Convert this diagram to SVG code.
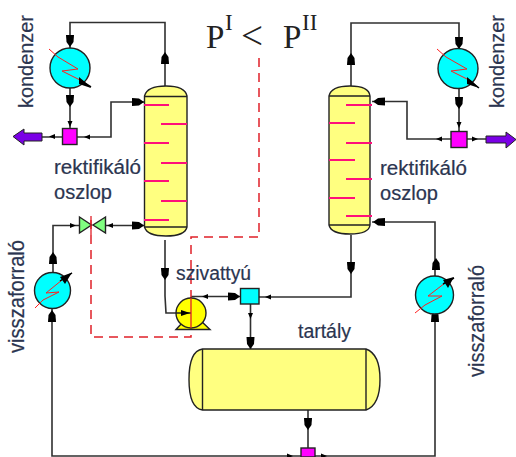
<svg xmlns="http://www.w3.org/2000/svg" xmlns:xlink="http://www.w3.org/1999/xlink" width="516" height="457" viewBox="0 0 516 457">
<style>
.c{fill:none;stroke:#303030;stroke-width:1.6}
.o{stroke:#222;stroke-width:1.4}
.y{fill:#ffff80}
.t{fill:none;stroke:#ff0f7a;stroke-width:2}
.r{fill:none;stroke:#ff2020;stroke-width:1}
.d{fill:none;stroke:#e02028;stroke-width:1.5;stroke-dasharray:9 6}
.h{fill:#00ffff}
.m{fill:#ff00ff}
.p{fill:#7a00e6;stroke:#222;stroke-width:1}
.l{font-family:"Liberation Sans",Arial,sans-serif;font-size:20px;fill:#2b3550;stroke:#2b3550;stroke-width:.2}
.v{font-size:22px}
.s{font-family:"Liberation Serif","Times New Roman",serif;fill:#222}
</style>
<defs>
<path id="A" d="M-4,-10 L4,-10 L3.500,-3 L0,2 L-3.500,-3 Z" fill="#000"/>
<path id="B" d="M-2.500,-3 L2.500,-3 L0,3 Z" fill="#000"/>
</defs>

<g id="connectors">
<path class="c" d="M70,48V22.500H165V86"/>
<path class="c" d="M70,88V128"/>
<path class="c" d="M62,137H42M77,137H111V102H144"/>
<path class="c" d="M144,225.500H106M79,225.500H53V272"/>
<path class="c" d="M52,309V456H301M315,456H435V314"/>
<path class="c" d="M165,240V296L166,313H191"/>
<path class="c" d="M191,296.500H240M250.500,304V349M259,297H351V235"/>
<path class="c" d="M351,86V23H459V48"/>
<path class="c" d="M459,88V131M451,139H407V101.500H372M467,139H486"/>
<path class="c" d="M435,276V222H372"/>
<path class="c" d="M308,410V448"/>
<use xlink:href="#A" transform="translate(70,45)"/>
<use xlink:href="#A" transform="translate(70,105)"/>
<use xlink:href="#B" transform="translate(70,124)"/>
<use xlink:href="#A" transform="translate(165,54) rotate(180)"/>
<use xlink:href="#B" transform="translate(52,136.500) rotate(90)"/>
<use xlink:href="#B" transform="translate(87,137) rotate(90)"/>
<use xlink:href="#A" transform="translate(142,102) rotate(-90)"/>
<use xlink:href="#A" transform="translate(142,225.500) rotate(-90)"/>
<use xlink:href="#B" transform="translate(110,225.500) rotate(90)"/>
<use xlink:href="#B" transform="translate(73,225.500) rotate(-90)"/>
<use xlink:href="#A" transform="translate(53,254) rotate(180)"/>
<use xlink:href="#A" transform="translate(52,312) rotate(180)"/>
<use xlink:href="#A" transform="translate(165,278)"/>
<use xlink:href="#B" transform="translate(205,296.500) rotate(90)"/>
<use xlink:href="#A" transform="translate(238,296.500) rotate(-90)"/>
<use xlink:href="#B" transform="translate(250.500,316)"/>
<use xlink:href="#A" transform="translate(250.500,347)"/>
<use xlink:href="#B" transform="translate(268,297) rotate(90)"/>
<use xlink:href="#A" transform="translate(351,272)"/>
<use xlink:href="#A" transform="translate(351,55) rotate(180)"/>
<use xlink:href="#A" transform="translate(459,47)"/>
<use xlink:href="#A" transform="translate(459,107)"/>
<use xlink:href="#B" transform="translate(459,125)"/>
<use xlink:href="#B" transform="translate(439,139) rotate(90)"/>
<use xlink:href="#B" transform="translate(475,139) rotate(-90)"/>
<use xlink:href="#A" transform="translate(375,101.500) rotate(90)"/>
<use xlink:href="#A" transform="translate(375,222) rotate(90)"/>
<use xlink:href="#A" transform="translate(436,260) rotate(180)"/>
<use xlink:href="#A" transform="translate(435,312) rotate(180)"/>
<use xlink:href="#A" transform="translate(308,428)"/>
<use xlink:href="#B" transform="translate(290,456) rotate(-90)"/>
<use xlink:href="#B" transform="translate(324,456) rotate(-90)"/>
<path class="d" d="M259,58V237H191V337H91V216"/>
</g>

<g id="column-left">
<path class="o y" d="M144.500,96Q147,86 166,86Q185,86 187,96V227Q185,236 166,236Q147,236 144.500,227Z"/>
<path class="o" fill="none" d="M144.500,96.500H187M144.500,227H187"/>
<path class="t" d="M144,105H169M161,124H187M144,143H169M161,163H187M144,181H169M161,201H187M144,220H169"/>
</g>
<g id="column-right">
<path class="o y" d="M329,96Q331,86 350,86Q369,86 370,96V225Q369,234 350,234Q331,234 329,225Z"/>
<path class="o" fill="none" d="M329,96H370M329,225H370"/>
<path class="t" d="M346,105H372M329,123H355M346,143H372M329,160H355M346,179H372M329,198H355M346,216H372"/>
</g>

<g id="condenser-left">
<circle class="o h" cx="70" cy="68" r="20"/>
<path class="r" d="M49,49L58,57L78,69L62,71L80,80"/>
<path d="M80,80L91,87" stroke="#000" stroke-width="1.500"/>
<path d="M79,77L85,82L91,88L79,84Z" fill="#000"/>
</g>
<g id="condenser-right">
<circle class="o h" cx="458" cy="68.500" r="20"/>
<path class="r" d="M437,49L446,57L467,69L451,71L469,80"/>
<path d="M469,80L479,88" stroke="#000" stroke-width="1.500"/>
<path d="M467,77L473,82L479,88L467,84Z" fill="#000"/>
</g>
<g id="reboiler-left">
<circle class="o h" cx="52.500" cy="290.500" r="18"/>
<path class="r" d="M35,308L43,300L59,292L46,293L62,280"/>
<path d="M60,281L72,273" stroke="#000" stroke-width="1.500"/>
<path d="M60,277L72,272.500L65,284Z" fill="#000"/>
</g>
<g id="reboiler-right">
<circle class="o h" cx="434.500" cy="295" r="19"/>
<path class="r" d="M415,313L425,305L442,296L428,296L445,283"/>
<path d="M443,284L454,278" stroke="#000" stroke-width="1.500"/>
<path d="M443,280L454,277L448,288Z" fill="#000"/>
</g>

<g id="splitter-left"><rect class="o m" x="62.500" y="128.500" width="14.500" height="16"/></g>
<g id="splitter-right"><rect class="o m" x="451" y="131.500" width="16" height="16"/></g>
<g id="splitter-bottom"><rect class="o m" x="301" y="448" width="14" height="9"/></g>
<g id="mixer"><rect class="o h" x="240.500" y="288.500" width="18.500" height="15.500"/></g>

<g id="outlet-left"><path class="p" d="M42,133V141H24V145L13,136.500L24,129V133Z"/></g>
<g id="outlet-right"><path class="p" d="M486,136H506V132L516,139.500L506,148V143H486Z"/></g>

<g id="valve">
<path class="o" fill="#80ff80" d="M79.500,217L91.500,225L79.500,233ZM105.500,217L93,225L105.500,233Z"/>
<path d="M91,216V235" stroke="#e02028" stroke-width="1.300"/>
</g>

<g id="pump">
<path class="o" fill="#ffff00" d="M176,329.500L184,321H201L210,329.500Z"/>
<circle class="o" fill="#ffff00" cx="191" cy="313" r="15"/>
<path d="M176,313H191" stroke="#222" stroke-width="1.500"/>
<path d="M181,310L190,313L181,316Z" fill="#000"/>
<path d="M191,298V328" stroke="#e02028" stroke-width="1.300"/>
</g>

<g id="tank">
<path class="o y" d="M202.500,349Q189,351 189,379.500Q189,408 202.500,410H366Q380,405 380,379.500Q380,354 366,349Z"/>
<path class="o" fill="none" d="M202.500,349V410M366,349V410"/>
</g>

<g id="labels">
<text class="l" transform="translate(33,108) rotate(-90)" textLength="93" lengthAdjust="spacingAndGlyphs">kondenzer</text>
<text class="l" transform="translate(504,108) rotate(-90)" textLength="93" lengthAdjust="spacingAndGlyphs">kondenzer</text>
<text class="l" x="54" y="174" textLength="87" lengthAdjust="spacingAndGlyphs">rektifikáló</text>
<text class="l" x="54" y="199" textLength="58" lengthAdjust="spacingAndGlyphs">oszlop</text>
<text class="l" x="380" y="175" textLength="87" lengthAdjust="spacingAndGlyphs">rektifikáló</text>
<text class="l" x="380" y="200" textLength="58" lengthAdjust="spacingAndGlyphs">oszlop</text>
<text class="l" x="176" y="280" textLength="75" lengthAdjust="spacingAndGlyphs">szivattyú</text>
<text class="l" x="298" y="338" textLength="53" lengthAdjust="spacingAndGlyphs">tartály</text>
<text class="l v" transform="translate(24,353) rotate(-90)" textLength="113" lengthAdjust="spacingAndGlyphs">visszaforraló</text>
<text class="l v" transform="translate(484,377) rotate(-90)" textLength="112" lengthAdjust="spacingAndGlyphs">visszaforraló</text>
<text class="s" x="206" y="48" font-size="33">P</text>
<text class="s" x="225" y="30" font-size="23">I</text>
<text class="s" x="241" y="49" font-size="39">&lt;</text>
<text class="s" x="283" y="48" font-size="33">P</text>
<text class="s" x="302" y="30" font-size="23">II</text>
</g>
</svg>
